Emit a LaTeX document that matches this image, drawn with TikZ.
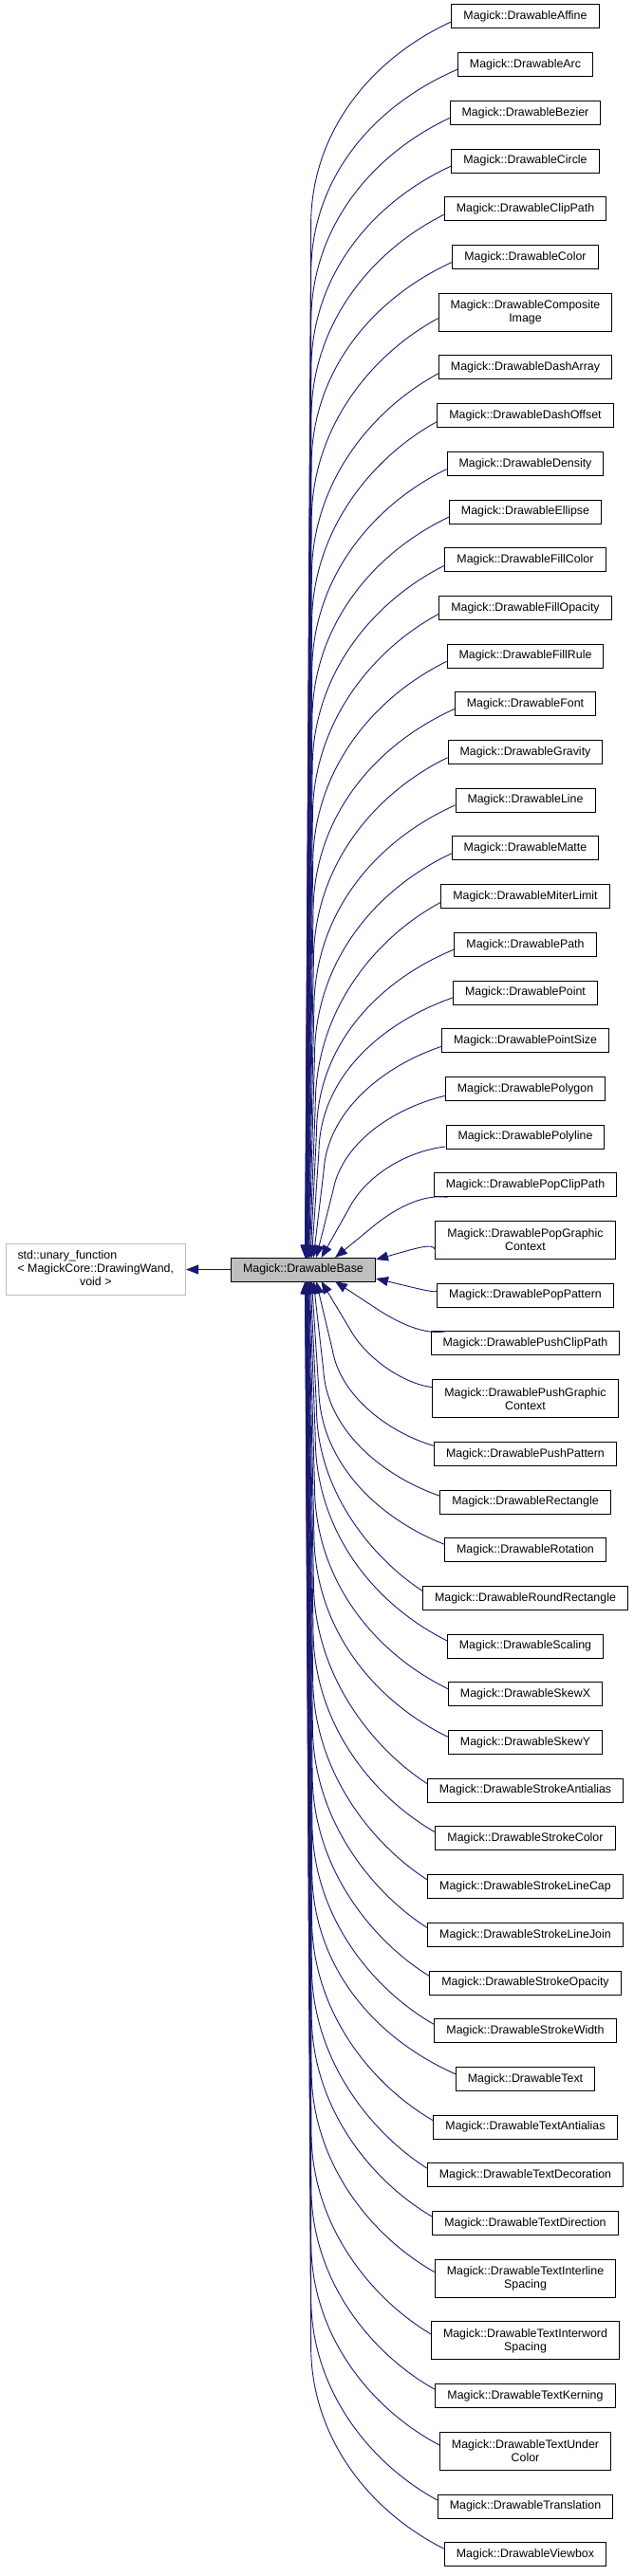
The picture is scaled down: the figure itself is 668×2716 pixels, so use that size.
\documentclass[tikz,border=0pt]{standalone}
\usepackage{fontspec}
\setmainfont{Liberation Sans}
\usetikzlibrary{arrows.meta,positioning}
\definecolor{edgeblue}{RGB}{25,25,112}
\definecolor{basegray}{RGB}{191,191,191}

\begin{document}
\begin{tikzpicture}[x=1pt, y=-1pt,
    every node/.style = {font=\fontsize{12.4}{14}\selectfont},
    cls/.style = {draw, line width=1pt, fill=white, inner xsep=12.5pt, inner ysep=2pt, align=center},
    derived/.style = {cls, minimum height=#1},
    derived/.default = 25pt,
    basecls/.style = {cls, fill=basegray, minimum height=25pt},
    extern/.style = {cls, draw=basegray, minimum height=54pt},
    edge/.style = {draw=edgeblue, line width=0.9pt, -{Triangle[length=13pt,width=10pt]}}
  ]
  \useasboundingbox (0,0) rectangle (668,2716);

  \node[basecls] (base) at (319.5,1338.5) {Magick::DrawableBase};
  \node[extern, left=47pt of base] (unary) {\begin{tabular}{@{}l@{}}std::unary\_function\\< MagickCore::DrawingWand,\\\multicolumn{1}{@{}c@{}}{void >}\end{tabular}};
  \draw[edge] (base) -- (unary);

  % derived classes, top to bottom
  \xdef\ytop{5}
  \foreach \nm/\rows [count=\i] in {Affine/1, Arc/1, Bezier/1, Circle/1, ClipPath/1, Color/1,
      Composite\\Image/2, DashArray/1, DashOffset/1, Density/1, Ellipse/1, FillColor/1,
      FillOpacity/1, FillRule/1, Font/1, Gravity/1, Line/1, Matte/1, MiterLimit/1, Path/1,
      Point/1, PointSize/1, Polygon/1, Polyline/1, PopClipPath/1, PopGraphic\\Context/2,
      PopPattern/1, PushClipPath/1, PushGraphic\\Context/2, PushPattern/1, Rectangle/1,
      Rotation/1, RoundRectangle/1, Scaling/1, SkewX/1, SkewY/1, StrokeAntialias/1,
      StrokeColor/1, StrokeLineCap/1, StrokeLineJoin/1, StrokeOpacity/1, StrokeWidth/1,
      Text/1, TextAntialias/1, TextDecoration/1, TextDirection/1, TextInterline\\Spacing/2,
      TextInterword\\Spacing/2, TextKerning/1, TextUnder\\Color/2, Translation/1, Viewbox/1}{
    \pgfmathsetmacro\bh{\rows==2 ? 40 : 25}
    \pgfmathsetmacro\yc{\ytop+\bh/2}
    \node[derived=\bh pt] (c\i) at (553.5,\yc) {Magick::Drawable\nm};
    \pgfmathsetmacro\ynext{\ytop+\bh+25.7}
    \xdef\ytop{\ynext}
    % where the edge meets the base class
    \ifnum\i<26
      \pgfmathsetmacro\xe{319+34/((26-\i)^0.8)}
      \def\ye{1326}
    \else\ifnum\i>27
      \pgfmathsetmacro\xe{319+34/((\i-27)^0.8)}
      \def\ye{1351}
    \else
      \def\xe{396}
      \pgfmathsetmacro\ye{\i==26 ? 1328 : 1348}
    \fi\fi
    \pgfmathsetmacro\dy{abs(\ye-\yc)}
    \pgfmathsetmacro\sg{\ye>\yc ? 1 : -1}
    \pgfmathsetmacro\mix{exp(-(\dy/150)^2)}
    \pgfmathsetmacro\rr{min(0.6*\dy,220)}
    \pgfmathsetmacro\xv{\xe+6}
    % bend near the class, then a steep run to the base
    \pgfmathsetmacro\ay{\yc+\sg*0.2*\rr}
    \pgfmathsetmacro\ax{(1-\mix)*(470-0.55*(470-\xv))+\mix*(470+(\ay-\yc)/(\ye-\yc)*(\xe-470))}
    \pgfmathsetmacro\by{\yc+\sg*0.55*\rr}
    \pgfmathsetmacro\bx{(1-\mix)*\xv+\mix*(470+(\by-\yc)/(\ye-\yc)*(\xe-470))}
    \pgfmathsetmacro\qy{\yc+\sg*\rr}
    \pgfmathsetmacro\qx{(1-\mix)*\xv+\mix*(470+(\qy-\yc)/(\ye-\yc)*(\xe-470))}
    \pgfmathtruncatemacro\ang{round(180+\sg*(3.5+7*\mix))}
    \ifnum\i=26 \def\ang{188}\fi
    \ifnum\i=27 \def\ang{177}\fi
    \pgfmathsetmacro\ox{\xe-319.5}
    \pgfmathsetmacro\oy{\ye-1338.5}
    \draw[edge] (c\i.\ang) .. controls (\ax,\ay) and (\bx,\by) .. (\qx,\qy)
      -- ([shift={(\ox,\oy)}]base.center);
  }
\end{tikzpicture}
\end{document}
